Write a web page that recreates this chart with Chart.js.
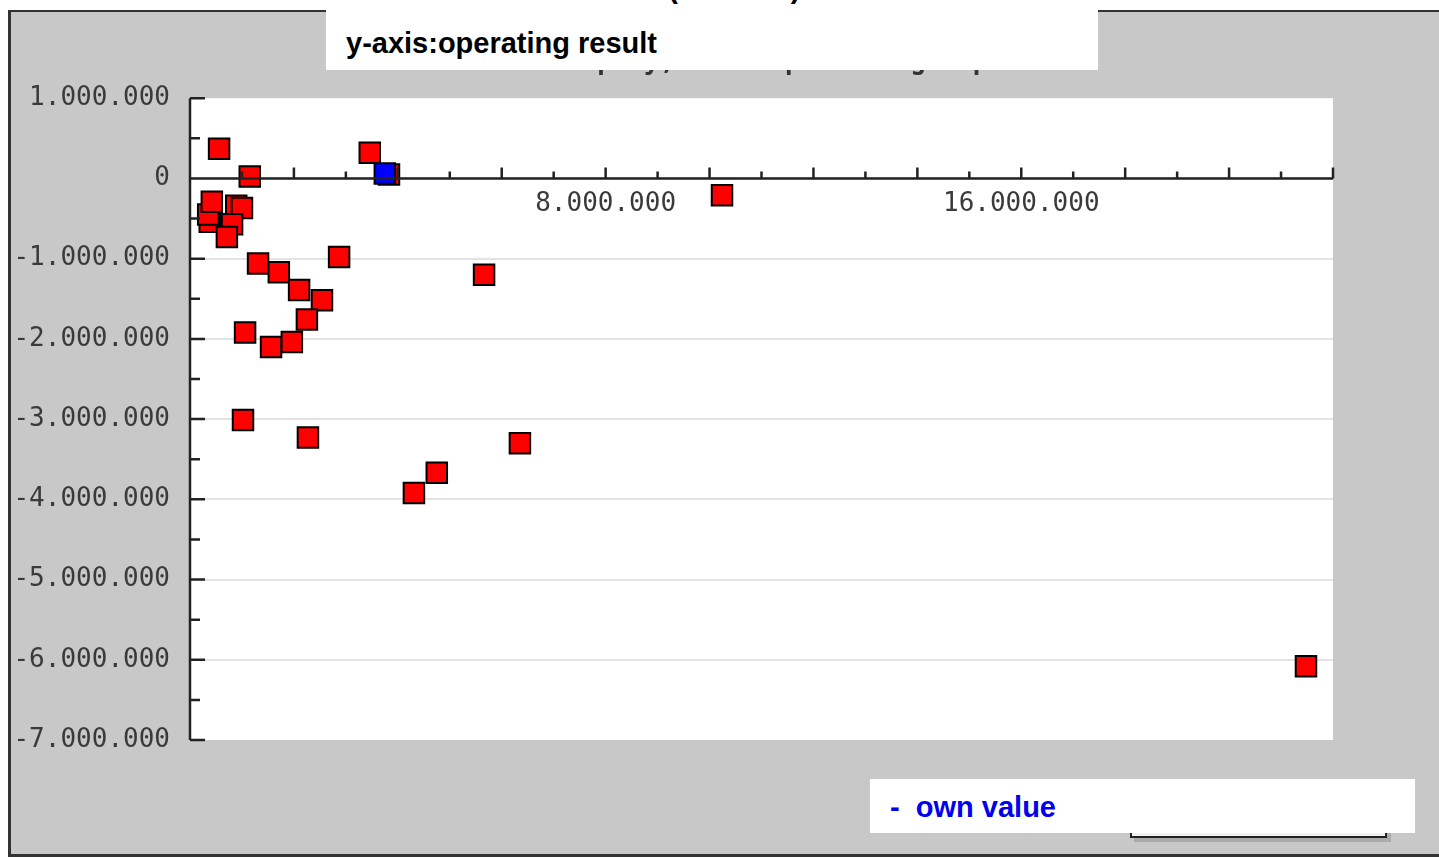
<!DOCTYPE html>
<html>
<head>
<meta charset="utf-8">
<script src="https://cdn.jsdelivr.net/npm/chart.js@4"></script>
<style>
  html, body { margin: 0; padding: 0; background: #fff; overflow: hidden; }
  #frame {
    position: absolute; left: 8px; top: 10px; width: 1440px; height: 847px;
    box-sizing: border-box; background: #c8c8c8;
    border-top: 2px solid #333; border-left: 3px solid #333; border-bottom: 3px solid #333;
  }
  #chart { position: absolute; left: 0; top: 0; }
  #legendBox {
    position: absolute; left: 1130px; top: 792px; width: 257px; height: 46px;
    box-sizing: border-box; border: 2px solid #222; background: #f2f2f2;
    box-shadow: 4px 4px 0 #aaa;
  }
  .note {
    position: absolute; background: #fff;
    font-family: "Liberation Sans", Arial, sans-serif; font-weight: bold; font-size: 29px;
  }
  .note div { position: absolute; white-space: pre; line-height: 29px; }
</style>
</head>
<body>
<div id="frame"></div>
<canvas id="chart" width="1439" height="858"></canvas>
<div id="legendBox"></div>
<div class="note" style="left:326px; top:0; width:772px; height:70px; color:#000;">
  <div style="left:20px; top:-26px;">x-axis:total net income (after tax)</div>
  <div style="left:20px; top:29px;">y-axis:operating result</div>
</div>
<div class="note" style="left:870px; top:779px; width:545px; height:54px; color:#0000ee;">
  <div style="left:20px; top:14px;">-  own value</div>
</div>
<script>
// comparison companies (red squares)
const peerNetIncome = [
  560000, 1150000, 3460000, 3830000, 10240000,
  380000, 350000, 420000, 890000, 1000000, 810000, 710000,
  1310000, 1710000, 2100000, 2540000, 2250000, 2870000,
  1060000, 1560000, 1960000, 1020000, 2270000,
  5660000, 4310000, 4750000, 6350000, 21480000
];
const peerOperating = [
  370000, 25000, 320000, 50000, -210000,
  -540000, -450000, -290000, -340000, -370000, -570000, -730000,
  -1060000, -1170000, -1390000, -1520000, -1760000, -980000,
  -1920000, -2100000, -2040000, -3010000, -3230000,
  -1200000, -3920000, -3670000, -3300000, -6080000
];
// own company (blue square)
const ownNetIncome = [3750000];
const ownOperating = [60000];

const xMin = 0, xMax = 22000000, xStep = 1000000;
const yMin = -7000000, yMax = 1000000, yStep = 500000;
const xLabelled = [8000000, 16000000];
const titleText = '1 company, 30 comparison groups';

function fmt(v) {
  const s = Math.abs(Math.round(v)).toString().replace(/\B(?=(\d{3})+(?!\d))/g, '.');
  return (v < 0 ? '-' : '') + s;
}
function pairs(xs, ys) { return xs.map((x, i) => ({ x: x, y: ys[i] })); }

const tickFont = { family: 'DejaVu Sans Mono', size: 26 };

// white plot area, axis lines and inward tick marks
const axisMarks = {
  id: 'axisMarks',
  beforeDraw(chart) {
    const { ctx, chartArea: a } = chart;
    ctx.save();
    ctx.fillStyle = '#fff';
    ctx.fillRect(a.left, a.top, a.right - a.left, a.bottom - a.top);
    ctx.restore();
  },
  afterDatasetsDraw(chart) {
    const { ctx, chartArea: a, scales: { x, y } } = chart;
    const y0 = y.getPixelForValue(0);
    ctx.save();
    ctx.strokeStyle = '#222';
    ctx.lineWidth = 2.5;
    ctx.beginPath();
    ctx.moveTo(a.left, a.top); ctx.lineTo(a.left, a.bottom);
    ctx.moveTo(a.left, y0); ctx.lineTo(a.right, y0);
    x.ticks.forEach(t => {
      const px = x.getPixelForValue(t.value);
      const len = t.value % 2000000 === 0 ? 11 : 7;
      ctx.moveTo(px, y0); ctx.lineTo(px, y0 - len);
    });
    y.ticks.forEach(t => {
      const py = y.getPixelForValue(t.value);
      const len = t.value % 1000000 === 0 ? 15 : 10;
      ctx.moveTo(a.left, py); ctx.lineTo(a.left + len, py);
    });
    ctx.stroke();
    ctx.restore();
  }
};

new Chart(document.getElementById('chart'), {
  type: 'scatter',
  data: {
    datasets: [
      {
        label: 'own value',
        data: pairs(ownNetIncome, ownOperating),
        pointStyle: 'rect', pointRadius: 14.5, pointHoverRadius: 14.5,
        backgroundColor: '#0000ff', borderColor: '#000', borderWidth: 2
      },
      {
        label: 'comparison',
        data: pairs(peerNetIncome, peerOperating),
        pointStyle: 'rect', pointRadius: 14.5, pointHoverRadius: 14.5,
        backgroundColor: '#ff0000', borderColor: '#000', borderWidth: 2
      }
    ]
  },
  options: {
    responsive: false,
    animation: false,
    layout: { padding: { left: 0, top: 47, right: 106, bottom: 118 } },
    plugins: {
      legend: { display: false },
      tooltip: { enabled: false },
      title: {
        display: true, fullSize: false, text: titleText,
        font: tickFont, color: '#333', padding: { top: 0, bottom: 20 }
      }
    },
    scales: {
      x: {
        type: 'linear', min: xMin, max: xMax,
        position: { y: 0 },
        grid: { display: false },
        border: { display: false },
        ticks: {
          stepSize: xStep, autoSkip: false, maxRotation: 0, padding: 2,
          font: tickFont, color: '#3a3a3a',
          callback: v => xLabelled.includes(v) ? fmt(v) : ''
        }
      },
      y: {
        type: 'linear', min: yMin, max: yMax,
        afterFit(s) { s.width = 190; },
        border: { display: false },
        grid: {
          drawTicks: false, lineWidth: 2,
          color: c => (c.tick && c.tick.value % 1000000 === 0 && c.tick.value > yMin && c.tick.value < yMax) ? '#e3e3e3' : 'rgba(0,0,0,0)'
        },
        ticks: {
          stepSize: yStep, autoSkip: false, padding: 20,
          font: tickFont, color: '#3a3a3a',
          callback: v => v % 1000000 === 0 ? fmt(v) : ''
        }
      }
    }
  },
  plugins: [axisMarks]
});
</script>
</body>
</html>
